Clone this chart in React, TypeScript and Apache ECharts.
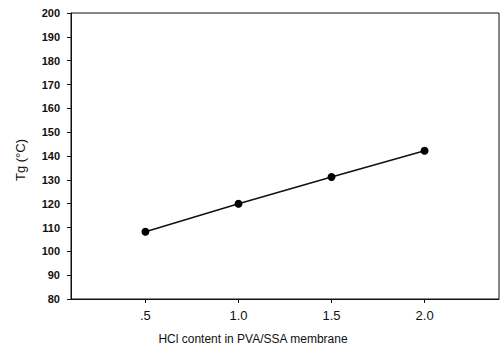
import React, { useEffect, useRef } from "react";
import * as echarts from "echarts";

const hclContent: number[] = [0.5, 1.0, 1.5, 2.0];
const tgValues: number[] = [108.2, 120, 131.2, 142.2];
const xTickValues: number[] = [0.5, 1.0, 1.5, 2.0];
const xTickLabels: string[] = [".5", "1.0", "1.5", "2.0"];
const xAxisTitle = "HCl content in PVA/SSA membrane";
const yAxisTitle = "Tg (°C)";

export default function App() {
  const ref = useRef<HTMLDivElement>(null);
  useEffect(() => {
    if (!ref.current) return;
    const chart = echarts.init(ref.current, undefined, { renderer: "svg" });
    const font = "'Liberation Sans', Arial, Helvetica, sans-serif";
    chart.setOption({
      animation: false,
      backgroundColor: "#ffffff",
      grid: {
        left: 71,
        right: 4,
        top: 13,
        bottom: 51,
        show: true,
        borderColor: "#111",
        borderWidth: 1,
        backgroundColor: "transparent",
      },
      xAxis: {
        type: "value",
        min: 0.1,
        max: 2.4,
        splitLine: { show: false },
        axisLine: { show: true, lineStyle: { color: "#111", width: 1 } },
        axisTick: {
          show: true,
          inside: false,
          length: 4,
          customValues: xTickValues,
          lineStyle: { color: "#111" },
        },
        axisLabel: {
          show: true,
          customValues: xTickValues,
          margin: 10,
          color: "#111",
          fontFamily: font,
          fontSize: 13,
          formatter: (v: number) => {
            const i = xTickValues.findIndex((t) => Math.abs(t - v) < 1e-6);
            return i >= 0 ? xTickLabels[i] : "";
          },
        },
      },
      yAxis: {
        type: "value",
        min: 80,
        max: 200,
        interval: 10,
        splitLine: { show: false },
        axisLine: { show: true, lineStyle: { color: "#111", width: 1 } },
        axisTick: { show: true, inside: false, length: 4, lineStyle: { color: "#111" } },
        axisLabel: {
          margin: 11,
          color: "#111",
          fontFamily: font,
          fontSize: 11,
          fontWeight: "bold",
        },
      },
      graphic: [
        {
          type: "text",
          x: 253,
          y: 339,
          style: {
            text: xAxisTitle,
            fill: "#111",
            font: `12px ${font}`,
            textAlign: "center",
            textVerticalAlign: "middle",
          },
        },
        {
          type: "text",
          x: 20,
          y: 160,
          rotation: Math.PI / 2,
          style: {
            text: yAxisTitle,
            fill: "#111",
            font: `13px ${font}`,
            textAlign: "center",
            textVerticalAlign: "middle",
          },
        },
      ],
      series: [
        {
          type: "line",
          data: hclContent.map((x, i) => [x, tgValues[i]]),
          symbol: "circle",
          symbolSize: 8,
          showSymbol: true,
          itemStyle: { color: "#000" },
          lineStyle: { color: "#111", width: 1.5 },
        },
      ],
    });
    return () => chart.dispose();
  }, []);
  return (
    <div
      ref={ref}
      style={{ position: "fixed", left: 0, top: 0, width: 503, height: 350 }}
    />
  );
}
